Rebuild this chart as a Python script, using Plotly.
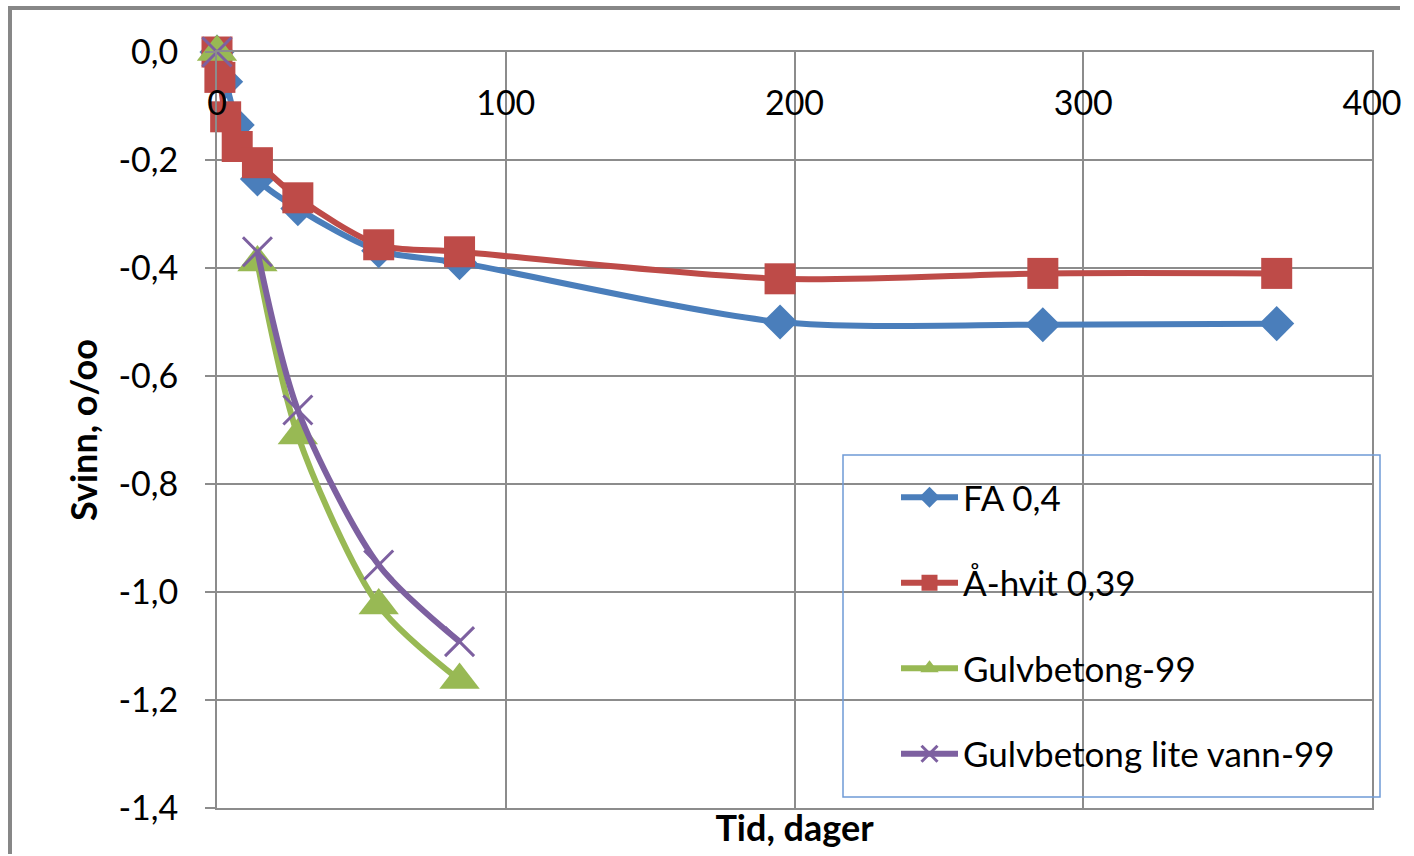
import plotly.graph_objects as go

# Shrinkage measurements (days vs. per mille)
fa_days = [0, 3, 7, 14, 28, 56, 84, 195, 286, 367]
fa_values = [0.0, -0.055, -0.135, -0.235, -0.29, -0.368, -0.39, -0.50, -0.505, -0.503]

ahvit_days = [0, 1, 3, 7, 14, 28, 56, 84, 195, 286, 367]
ahvit_values = [0.0, -0.047, -0.12, -0.175, -0.205, -0.27, -0.357, -0.37, -0.42, -0.41, -0.41]

gulv_days = [0, 7, 14, 28, 56, 84]
gulv_values = [0.0, None, -0.39, -0.71, -1.025, -1.163]

gulv_lv_days = [0, 7, 14, 28, 56, 84]
gulv_lv_values = [0.0, None, -0.37, -0.663, -0.95, -1.092]

series_names = ["FA 0,4", "Å-hvit 0,39", "Gulvbetong-99", "Gulvbetong lite vann-99"]

x_ticks = [0, 100, 200, 300, 400]
x_tick_labels = ["0", "100", "200", "300", "400"]
y_ticks = [0.0, -0.2, -0.4, -0.6, -0.8, -1.0, -1.2, -1.4]
y_tick_labels = ["0,0", "-0,2", "-0,4", "-0,6", "-0,8", "-1,0", "-1,2", "-1,4"]

FONT = "Lato"
GRID = "#8c8c8c"

styles = [
    dict(color="#4a7ebb", symbol="diamond", size=27),
    dict(color="#be4b48", symbol="square", size=31),
    dict(color="#98b954", symbol="triangle-up", size=35),
    dict(color="#7d60a0", symbol="x-thin", size=29),
]
data = [(fa_days, fa_values), (ahvit_days, ahvit_values),
        (gulv_days, gulv_values), (gulv_lv_days, gulv_lv_values)]

fig = go.Figure()
for i, ((xs, ys), name, st) in enumerate(zip(data, series_names, styles)):
    marker = dict(symbol=st["symbol"], size=st["size"], color=st["color"])
    if st["symbol"] == "x-thin":
        marker["line"] = dict(color=st["color"], width=3)
    fig.add_trace(go.Scatter(
        x=xs, y=ys, name=name, mode="lines+markers",
        line=dict(color=st["color"], width=6, shape="spline", smoothing=0.8),
        marker=marker, connectgaps=False, legendgroup=f"g{i}",
        cliponaxis=False,
        # last series sits on the top x axis so its tick labels get drawn
        xaxis="x2" if i == 3 else "x",
    ))

L, R, T, B = 217, 42, 52, 48
W, H = 1414, 856
pw, ph = W - L - R, H - T - B

def px_x(px):
    return (px - L) / pw

def px_y(py):
    return 1 - (py - T) / ph

fig.update_layout(
    width=W, height=H,
    margin=dict(l=L, r=R, t=T, b=B),
    paper_bgcolor="white", plot_bgcolor="white",
    font=dict(family=FONT, color="#000000"),
    showlegend=True,
    legend=dict(
        x=px_x(896), y=px_y(468), xanchor="left", yanchor="top",
        bgcolor="rgba(0,0,0,0)", borderwidth=0,
        font=dict(family=FONT, size=35, color="#000000"),
        tracegroupgap=37, itemwidth=57,
    ),
    xaxis=dict(
        range=[0, 400], tickvals=x_ticks, showticklabels=False,
        showgrid=True, gridcolor=GRID, gridwidth=2,
        showline=True, linecolor=GRID, linewidth=2, mirror=True,
        zeroline=False, ticks="",
        title=dict(text="Tid, dager", standoff=7,
                   font=dict(family=FONT, size=36, weight="bold")),
    ),
    xaxis2=dict(
        overlaying="x", matches="x", side="top", anchor="y",
        range=[0, 400], tickvals=x_ticks, ticktext=x_tick_labels,
        ticklabelposition="inside", ticklabeloverflow="allow",
        ticklabelstandoff=36,
        showgrid=False, zeroline=False, showline=False, ticks="",
        tickfont=dict(family=FONT, size=34, color="#000000"),
    ),
    yaxis=dict(
        range=[-1.4, 0], tickvals=y_ticks, ticktext=y_tick_labels,
        showgrid=True, gridcolor=GRID, gridwidth=2,
        showline=True, linecolor=GRID, linewidth=2, mirror=True,
        zeroline=False, ticks="outside", ticklen=10, tickcolor=GRID, tickwidth=2,
        ticklabelstandoff=20,
        tickfont=dict(family=FONT, size=34, color="#000000"),
        title=dict(text="Svinn, o/oo", standoff=10,
                   font=dict(family=FONT, size=36, weight="bold")),
    ),
    shapes=[
        # legend frame
        dict(type="rect", xref="paper", yref="paper",
             x0=px_x(843), x1=px_x(1380), y0=px_y(797), y1=px_y(455),
             line=dict(color="#6f9bd6", width=1.5), fillcolor="rgba(0,0,0,0)",
             layer="above"),
        # chart area frame: left and top edges
        dict(type="line", xref="paper", yref="paper",
             x0=px_x(10), x1=px_x(10), y0=px_y(854), y1=px_y(8),
             line=dict(color="#878787", width=4)),
        dict(type="line", xref="paper", yref="paper",
             x0=px_x(8), x1=px_x(1400), y0=px_y(8), y1=px_y(8),
             line=dict(color="#878787", width=4)),
    ],
)

fig.write_html("out.html")
